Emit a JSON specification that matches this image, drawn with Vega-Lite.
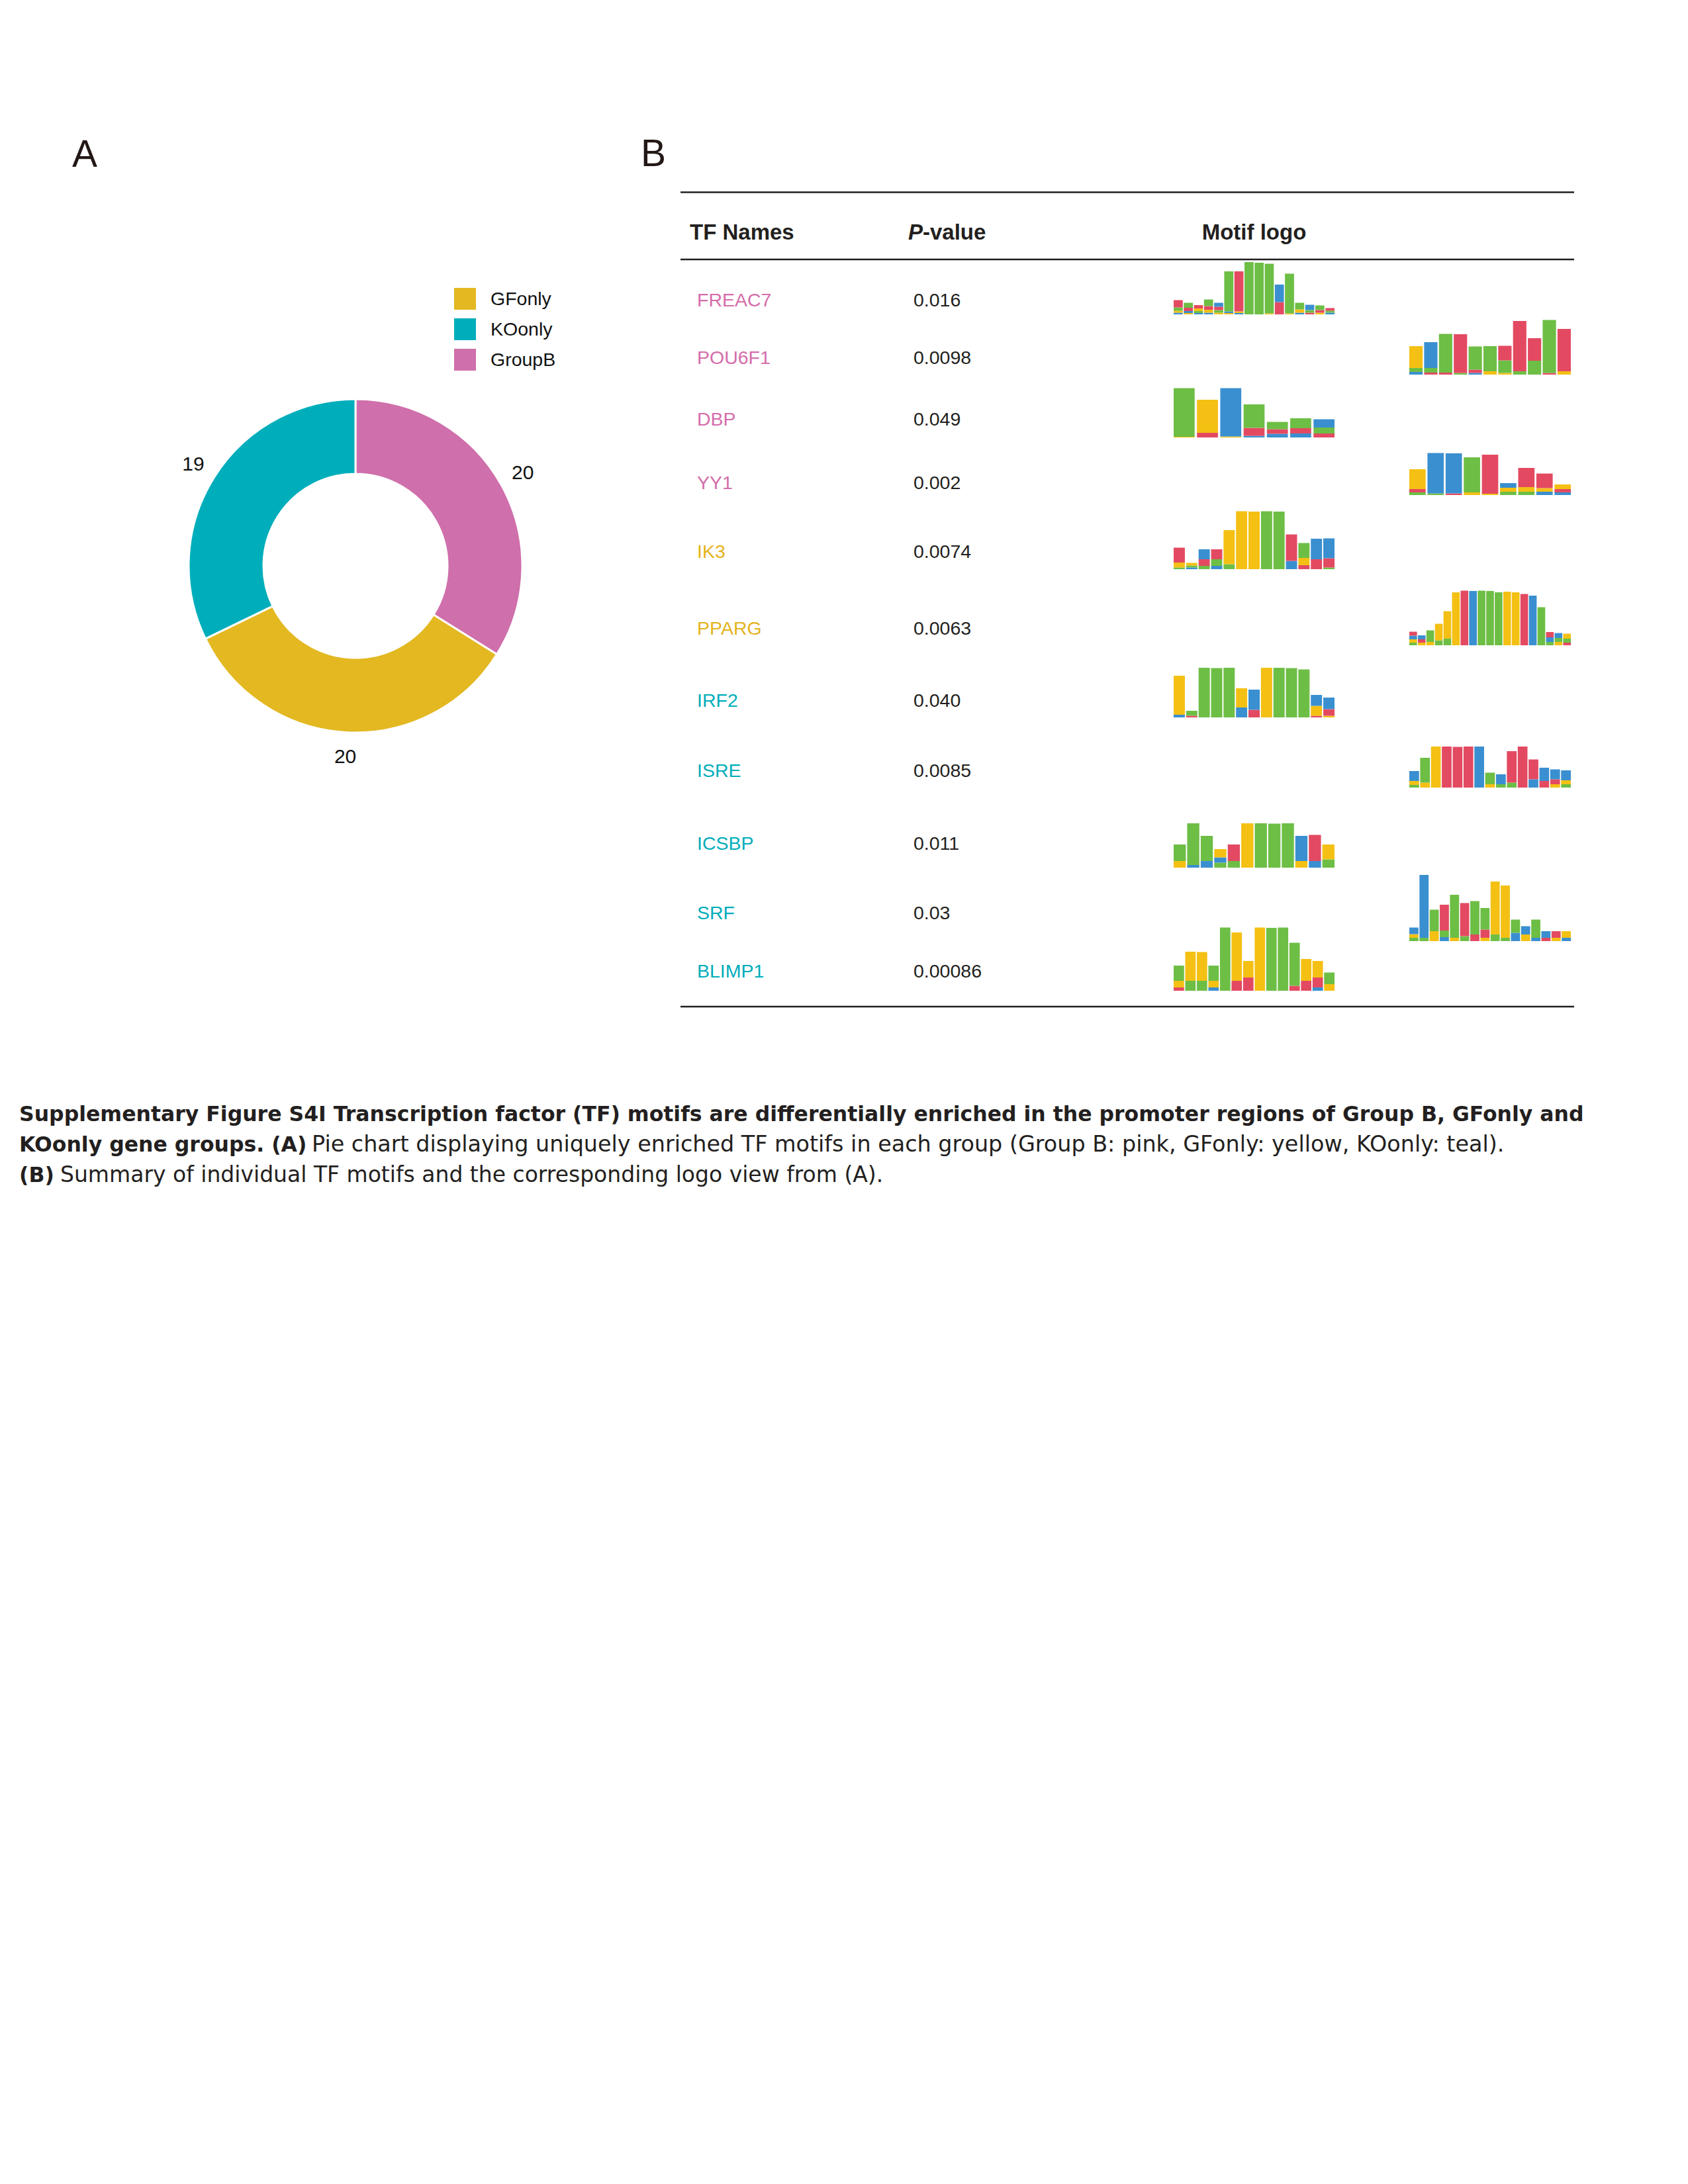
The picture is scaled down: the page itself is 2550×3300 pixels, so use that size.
{
  "$schema": "https://vega.github.io/schema/vega-lite/v6.json",
  "background": "white",
  "padding": {"left": 29, "top": 205, "right": 0, "bottom": 0},
  "config": {
    "view": {"stroke": null},
    "font": "Liberation Sans",
    "title": {"font": "Liberation Sans", "fontSize": 57, "fontWeight": "normal", "color": "#231815", "anchor": "start", "frame": "group", "baseline": "alphabetic"}
  },
  "datasets": {
    "tbl": [
      {"r":"hdr","k":"h","c":"a","t":"TF Names"},
      {"r":"hdr","k":"h","c":"b","t":"-value"},
      {"r":"hdr","k":"hp","c":"b","t":"P"},
      {"r":"hdr","k":"hm","c":"m","t":"Motif logo"},
      {"r":"hdr","k":"rt"},
      {"r":"hdr","k":"rm"},
      {"r":"BLIMP1","k":"rb"},
      {"r":"FREAC7","k":"n","c":"name","t":"FREAC7","g":"GroupB"},
      {"r":"FREAC7","k":"n","c":"p","t":"0.016","g":"P"},
      {"r":"POU6F1","k":"n","c":"name","t":"POU6F1","g":"GroupB"},
      {"r":"POU6F1","k":"n","c":"p","t":"0.0098","g":"P"},
      {"r":"DBP","k":"n","c":"name","t":"DBP","g":"GroupB"},
      {"r":"DBP","k":"n","c":"p","t":"0.049","g":"P"},
      {"r":"YY1","k":"n","c":"name","t":"YY1","g":"GroupB"},
      {"r":"YY1","k":"n","c":"p","t":"0.002","g":"P"},
      {"r":"IK3","k":"n","c":"name","t":"IK3","g":"GFonly"},
      {"r":"IK3","k":"n","c":"p","t":"0.0074","g":"P"},
      {"r":"PPARG","k":"n","c":"name","t":"PPARG","g":"GFonly"},
      {"r":"PPARG","k":"n","c":"p","t":"0.0063","g":"P"},
      {"r":"IRF2","k":"n","c":"name","t":"IRF2","g":"KOonly"},
      {"r":"IRF2","k":"n","c":"p","t":"0.040","g":"P"},
      {"r":"ISRE","k":"n","c":"name","t":"ISRE","g":"KOonly"},
      {"r":"ISRE","k":"n","c":"p","t":"0.0085","g":"P"},
      {"r":"ICSBP","k":"n","c":"name","t":"ICSBP","g":"KOonly"},
      {"r":"ICSBP","k":"n","c":"p","t":"0.011","g":"P"},
      {"r":"SRF","k":"n","c":"name","t":"SRF","g":"KOonly"},
      {"r":"SRF","k":"n","c":"p","t":"0.03","g":"P"},
      {"r":"BLIMP1","k":"n","c":"name","t":"BLIMP1","g":"KOonly"},
      {"r":"BLIMP1","k":"n","c":"p","t":"0.00086","g":"P"},

      {"r":"FREAC7","k":"L","p":1,"l":"C","h":0.05},{"r":"FREAC7","k":"L","p":1,"l":"G","h":0.06},{"r":"FREAC7","k":"L","p":1,"l":"A","h":0.1},{"r":"FREAC7","k":"L","p":1,"l":"T","h":0.22},
      {"r":"FREAC7","k":"L","p":2,"l":"G","h":0.04},{"r":"FREAC7","k":"L","p":2,"l":"C","h":0.06},{"r":"FREAC7","k":"L","p":2,"l":"T","h":0.1},{"r":"FREAC7","k":"L","p":2,"l":"A","h":0.15},
      {"r":"FREAC7","k":"L","p":3,"l":"C","h":0.04},{"r":"FREAC7","k":"L","p":3,"l":"A","h":0.06},{"r":"FREAC7","k":"L","p":3,"l":"G","h":0.08},{"r":"FREAC7","k":"L","p":3,"l":"T","h":0.1},
      {"r":"FREAC7","k":"L","p":4,"l":"C","h":0.05},{"r":"FREAC7","k":"L","p":4,"l":"G","h":0.09},{"r":"FREAC7","k":"L","p":4,"l":"T","h":0.11},{"r":"FREAC7","k":"L","p":4,"l":"A","h":0.2},
      {"r":"FREAC7","k":"L","p":5,"l":"G","h":0.05},{"r":"FREAC7","k":"L","p":5,"l":"A","h":0.08},{"r":"FREAC7","k":"L","p":5,"l":"T","h":0.1},{"r":"FREAC7","k":"L","p":5,"l":"C","h":0.12},
      {"r":"FREAC7","k":"L","p":6,"l":"G","h":0.04},{"r":"FREAC7","k":"L","p":6,"l":"C","h":0.05},{"r":"FREAC7","k":"L","p":6,"l":"A","h":1.21},
      {"r":"FREAC7","k":"L","p":7,"l":"C","h":0.04},{"r":"FREAC7","k":"L","p":7,"l":"G","h":0.05},{"r":"FREAC7","k":"L","p":7,"l":"T","h":1.21},
      {"r":"FREAC7","k":"L","p":8,"l":"A","h":1.58},
      {"r":"FREAC7","k":"L","p":9,"l":"A","h":1.56},
      {"r":"FREAC7","k":"L","p":10,"l":"G","h":0.03},{"r":"FREAC7","k":"L","p":10,"l":"A","h":1.5},
      {"r":"FREAC7","k":"L","p":11,"l":"T","h":0.37},{"r":"FREAC7","k":"L","p":11,"l":"C","h":0.53},
      {"r":"FREAC7","k":"L","p":12,"l":"G","h":0.03},{"r":"FREAC7","k":"L","p":12,"l":"A","h":1.2},
      {"r":"FREAC7","k":"L","p":13,"l":"C","h":0.05},{"r":"FREAC7","k":"L","p":13,"l":"G","h":0.1},{"r":"FREAC7","k":"L","p":13,"l":"A","h":0.2},
      {"r":"FREAC7","k":"L","p":14,"l":"T","h":0.05},{"r":"FREAC7","k":"L","p":14,"l":"A","h":0.08},{"r":"FREAC7","k":"L","p":14,"l":"C","h":0.16},
      {"r":"FREAC7","k":"L","p":15,"l":"G","h":0.05},{"r":"FREAC7","k":"L","p":15,"l":"T","h":0.08},{"r":"FREAC7","k":"L","p":15,"l":"A","h":0.14},
      {"r":"FREAC7","k":"L","p":16,"l":"C","h":0.05},{"r":"FREAC7","k":"L","p":16,"l":"A","h":0.06},{"r":"FREAC7","k":"L","p":16,"l":"T","h":0.08},

      {"r":"POU6F1","k":"R","p":1,"l":"C","h":0.08},{"r":"POU6F1","k":"R","p":1,"l":"A","h":0.12},{"r":"POU6F1","k":"R","p":1,"l":"G","h":0.66},
      {"r":"POU6F1","k":"R","p":2,"l":"T","h":0.06},{"r":"POU6F1","k":"R","p":2,"l":"A","h":0.14},{"r":"POU6F1","k":"R","p":2,"l":"C","h":0.78},
      {"r":"POU6F1","k":"R","p":3,"l":"T","h":0.06},{"r":"POU6F1","k":"R","p":3,"l":"A","h":1.17},
      {"r":"POU6F1","k":"R","p":4,"l":"A","h":0.05},{"r":"POU6F1","k":"R","p":4,"l":"T","h":1.17},
      {"r":"POU6F1","k":"R","p":5,"l":"C","h":0.05},{"r":"POU6F1","k":"R","p":5,"l":"T","h":0.1},{"r":"POU6F1","k":"R","p":5,"l":"A","h":0.7},
      {"r":"POU6F1","k":"R","p":6,"l":"G","h":0.1},{"r":"POU6F1","k":"R","p":6,"l":"A","h":0.76},
      {"r":"POU6F1","k":"R","p":7,"l":"G","h":0.05},{"r":"POU6F1","k":"R","p":7,"l":"A","h":0.38},{"r":"POU6F1","k":"R","p":7,"l":"T","h":0.44},
      {"r":"POU6F1","k":"R","p":8,"l":"A","h":0.1},{"r":"POU6F1","k":"R","p":8,"l":"T","h":1.52},
      {"r":"POU6F1","k":"R","p":9,"l":"A","h":0.42},{"r":"POU6F1","k":"R","p":9,"l":"T","h":0.68},
      {"r":"POU6F1","k":"R","p":10,"l":"T","h":0.05},{"r":"POU6F1","k":"R","p":10,"l":"A","h":1.6},
      {"r":"POU6F1","k":"R","p":11,"l":"G","h":0.1},{"r":"POU6F1","k":"R","p":11,"l":"T","h":1.28},

      {"r":"DBP","k":"L","p":1,"l":"G","h":0.02},{"r":"DBP","k":"L","p":1,"l":"A","h":1.47},
      {"r":"DBP","k":"L","p":2,"l":"T","h":0.14},{"r":"DBP","k":"L","p":2,"l":"G","h":1.0},
      {"r":"DBP","k":"L","p":3,"l":"G","h":0.03},{"r":"DBP","k":"L","p":3,"l":"C","h":1.46},
      {"r":"DBP","k":"L","p":4,"l":"C","h":0.05},{"r":"DBP","k":"L","p":4,"l":"T","h":0.24},{"r":"DBP","k":"L","p":4,"l":"A","h":0.71},
      {"r":"DBP","k":"L","p":5,"l":"C","h":0.11},{"r":"DBP","k":"L","p":5,"l":"T","h":0.14},{"r":"DBP","k":"L","p":5,"l":"A","h":0.22},
      {"r":"DBP","k":"L","p":6,"l":"C","h":0.12},{"r":"DBP","k":"L","p":6,"l":"T","h":0.16},{"r":"DBP","k":"L","p":6,"l":"A","h":0.3},
      {"r":"DBP","k":"L","p":7,"l":"T","h":0.12},{"r":"DBP","k":"L","p":7,"l":"A","h":0.18},{"r":"DBP","k":"L","p":7,"l":"C","h":0.25},

      {"r":"YY1","k":"R","p":1,"l":"A","h":0.08},{"r":"YY1","k":"R","p":1,"l":"T","h":0.1},{"r":"YY1","k":"R","p":1,"l":"G","h":0.6},
      {"r":"YY1","k":"R","p":2,"l":"A","h":0.05},{"r":"YY1","k":"R","p":2,"l":"C","h":1.22},
      {"r":"YY1","k":"R","p":3,"l":"T","h":0.05},{"r":"YY1","k":"R","p":3,"l":"C","h":1.21},
      {"r":"YY1","k":"R","p":4,"l":"G","h":0.08},{"r":"YY1","k":"R","p":4,"l":"A","h":1.06},
      {"r":"YY1","k":"R","p":5,"l":"G","h":0.04},{"r":"YY1","k":"R","p":5,"l":"T","h":1.18},
      {"r":"YY1","k":"R","p":6,"l":"A","h":0.1},{"r":"YY1","k":"R","p":6,"l":"G","h":0.12},{"r":"YY1","k":"R","p":6,"l":"C","h":0.14},
      {"r":"YY1","k":"R","p":7,"l":"A","h":0.1},{"r":"YY1","k":"R","p":7,"l":"G","h":0.14},{"r":"YY1","k":"R","p":7,"l":"T","h":0.58},
      {"r":"YY1","k":"R","p":8,"l":"C","h":0.1},{"r":"YY1","k":"R","p":8,"l":"G","h":0.11},{"r":"YY1","k":"R","p":8,"l":"T","h":0.44},
      {"r":"YY1","k":"R","p":9,"l":"C","h":0.08},{"r":"YY1","k":"R","p":9,"l":"T","h":0.1},{"r":"YY1","k":"R","p":9,"l":"G","h":0.14},

      {"r":"IK3","k":"L","p":1,"l":"A","h":0.05},{"r":"IK3","k":"L","p":1,"l":"G","h":0.15},{"r":"IK3","k":"L","p":1,"l":"T","h":0.45},
      {"r":"IK3","k":"L","p":2,"l":"C","h":0.05},{"r":"IK3","k":"L","p":2,"l":"A","h":0.06},{"r":"IK3","k":"L","p":2,"l":"G","h":0.08},
      {"r":"IK3","k":"L","p":3,"l":"A","h":0.1},{"r":"IK3","k":"L","p":3,"l":"T","h":0.2},{"r":"IK3","k":"L","p":3,"l":"C","h":0.3},
      {"r":"IK3","k":"L","p":4,"l":"C","h":0.1},{"r":"IK3","k":"L","p":4,"l":"A","h":0.2},{"r":"IK3","k":"L","p":4,"l":"T","h":0.3},
      {"r":"IK3","k":"L","p":5,"l":"A","h":0.15},{"r":"IK3","k":"L","p":5,"l":"G","h":1.03},
      {"r":"IK3","k":"L","p":6,"l":"G","h":1.75},
      {"r":"IK3","k":"L","p":7,"l":"G","h":1.74},
      {"r":"IK3","k":"L","p":8,"l":"A","h":1.75},
      {"r":"IK3","k":"L","p":9,"l":"A","h":1.74},
      {"r":"IK3","k":"L","p":10,"l":"C","h":0.25},{"r":"IK3","k":"L","p":10,"l":"T","h":0.8},
      {"r":"IK3","k":"L","p":11,"l":"T","h":0.12},{"r":"IK3","k":"L","p":11,"l":"G","h":0.22},{"r":"IK3","k":"L","p":11,"l":"A","h":0.45},
      {"r":"IK3","k":"L","p":12,"l":"T","h":0.3},{"r":"IK3","k":"L","p":12,"l":"C","h":0.62},
      {"r":"IK3","k":"L","p":13,"l":"A","h":0.05},{"r":"IK3","k":"L","p":13,"l":"T","h":0.28},{"r":"IK3","k":"L","p":13,"l":"C","h":0.6},

      {"r":"PPARG","k":"R","p":1,"l":"A","h":0.08},{"r":"PPARG","k":"R","p":1,"l":"G","h":0.1},{"r":"PPARG","k":"R","p":1,"l":"C","h":0.11},{"r":"PPARG","k":"R","p":1,"l":"T","h":0.12},
      {"r":"PPARG","k":"R","p":2,"l":"G","h":0.08},{"r":"PPARG","k":"R","p":2,"l":"T","h":0.1},{"r":"PPARG","k":"R","p":2,"l":"C","h":0.12},
      {"r":"PPARG","k":"R","p":3,"l":"G","h":0.1},{"r":"PPARG","k":"R","p":3,"l":"A","h":0.35},
      {"r":"PPARG","k":"R","p":4,"l":"A","h":0.15},{"r":"PPARG","k":"R","p":4,"l":"G","h":0.5},
      {"r":"PPARG","k":"R","p":5,"l":"A","h":0.2},{"r":"PPARG","k":"R","p":5,"l":"G","h":0.83},
      {"r":"PPARG","k":"R","p":6,"l":"G","h":1.6},
      {"r":"PPARG","k":"R","p":7,"l":"T","h":1.65},
      {"r":"PPARG","k":"R","p":8,"l":"C","h":1.64},
      {"r":"PPARG","k":"R","p":9,"l":"A","h":1.65},
      {"r":"PPARG","k":"R","p":10,"l":"A","h":1.64},
      {"r":"PPARG","k":"R","p":11,"l":"A","h":1.6},
      {"r":"PPARG","k":"R","p":12,"l":"G","h":1.62},
      {"r":"PPARG","k":"R","p":13,"l":"G","h":1.6},
      {"r":"PPARG","k":"R","p":14,"l":"T","h":1.55},
      {"r":"PPARG","k":"R","p":15,"l":"C","h":1.5},
      {"r":"PPARG","k":"R","p":16,"l":"A","h":1.15},
      {"r":"PPARG","k":"R","p":17,"l":"A","h":0.1},{"r":"PPARG","k":"R","p":17,"l":"C","h":0.14},{"r":"PPARG","k":"R","p":17,"l":"T","h":0.16},
      {"r":"PPARG","k":"R","p":18,"l":"G","h":0.1},{"r":"PPARG","k":"R","p":18,"l":"A","h":0.12},{"r":"PPARG","k":"R","p":18,"l":"C","h":0.15},
      {"r":"PPARG","k":"R","p":19,"l":"T","h":0.08},{"r":"PPARG","k":"R","p":19,"l":"A","h":0.12},{"r":"PPARG","k":"R","p":19,"l":"G","h":0.15},

      {"r":"IRF2","k":"L","p":1,"l":"C","h":0.08},{"r":"IRF2","k":"L","p":1,"l":"G","h":1.18},
      {"r":"IRF2","k":"L","p":2,"l":"T","h":0.05},{"r":"IRF2","k":"L","p":2,"l":"A","h":0.15},
      {"r":"IRF2","k":"L","p":3,"l":"A","h":1.5},
      {"r":"IRF2","k":"L","p":4,"l":"A","h":1.49},
      {"r":"IRF2","k":"L","p":5,"l":"A","h":1.5},
      {"r":"IRF2","k":"L","p":6,"l":"C","h":0.3},{"r":"IRF2","k":"L","p":6,"l":"G","h":0.58},
      {"r":"IRF2","k":"L","p":7,"l":"T","h":0.23},{"r":"IRF2","k":"L","p":7,"l":"C","h":0.61},
      {"r":"IRF2","k":"L","p":8,"l":"G","h":1.5},
      {"r":"IRF2","k":"L","p":9,"l":"A","h":1.5},
      {"r":"IRF2","k":"L","p":10,"l":"A","h":1.49},
      {"r":"IRF2","k":"L","p":11,"l":"A","h":1.45},
      {"r":"IRF2","k":"L","p":12,"l":"T","h":0.05},{"r":"IRF2","k":"L","p":12,"l":"G","h":0.3},{"r":"IRF2","k":"L","p":12,"l":"C","h":0.33},
      {"r":"IRF2","k":"L","p":13,"l":"G","h":0.05},{"r":"IRF2","k":"L","p":13,"l":"T","h":0.2},{"r":"IRF2","k":"L","p":13,"l":"C","h":0.35},

      {"r":"ISRE","k":"R","p":1,"l":"A","h":0.08},{"r":"ISRE","k":"R","p":1,"l":"G","h":0.12},{"r":"ISRE","k":"R","p":1,"l":"C","h":0.3},
      {"r":"ISRE","k":"R","p":2,"l":"G","h":0.15},{"r":"ISRE","k":"R","p":2,"l":"A","h":0.75},
      {"r":"ISRE","k":"R","p":3,"l":"G","h":1.24},
      {"r":"ISRE","k":"R","p":4,"l":"T","h":1.24},
      {"r":"ISRE","k":"R","p":5,"l":"T","h":1.23},
      {"r":"ISRE","k":"R","p":6,"l":"T","h":1.24},
      {"r":"ISRE","k":"R","p":7,"l":"C","h":1.24},
      {"r":"ISRE","k":"R","p":8,"l":"G","h":0.1},{"r":"ISRE","k":"R","p":8,"l":"A","h":0.35},
      {"r":"ISRE","k":"R","p":9,"l":"A","h":0.1},{"r":"ISRE","k":"R","p":9,"l":"C","h":0.3},
      {"r":"ISRE","k":"R","p":10,"l":"A","h":0.15},{"r":"ISRE","k":"R","p":10,"l":"T","h":0.95},
      {"r":"ISRE","k":"R","p":11,"l":"T","h":1.24},
      {"r":"ISRE","k":"R","p":12,"l":"C","h":0.25},{"r":"ISRE","k":"R","p":12,"l":"T","h":0.6},
      {"r":"ISRE","k":"R","p":13,"l":"T","h":0.2},{"r":"ISRE","k":"R","p":13,"l":"C","h":0.4},
      {"r":"ISRE","k":"R","p":14,"l":"G","h":0.1},{"r":"ISRE","k":"R","p":14,"l":"T","h":0.15},{"r":"ISRE","k":"R","p":14,"l":"C","h":0.3},
      {"r":"ISRE","k":"R","p":15,"l":"A","h":0.1},{"r":"ISRE","k":"R","p":15,"l":"G","h":0.12},{"r":"ISRE","k":"R","p":15,"l":"C","h":0.3},

      {"r":"ICSBP","k":"L","p":1,"l":"G","h":0.2},{"r":"ICSBP","k":"L","p":1,"l":"A","h":0.5},
      {"r":"ICSBP","k":"L","p":2,"l":"C","h":0.08},{"r":"ICSBP","k":"L","p":2,"l":"A","h":1.26},
      {"r":"ICSBP","k":"L","p":3,"l":"C","h":0.2},{"r":"ICSBP","k":"L","p":3,"l":"A","h":0.76},
      {"r":"ICSBP","k":"L","p":4,"l":"A","h":0.15},{"r":"ICSBP","k":"L","p":4,"l":"C","h":0.16},{"r":"ICSBP","k":"L","p":4,"l":"G","h":0.25},
      {"r":"ICSBP","k":"L","p":5,"l":"A","h":0.2},{"r":"ICSBP","k":"L","p":5,"l":"T","h":0.5},
      {"r":"ICSBP","k":"L","p":6,"l":"G","h":1.34},
      {"r":"ICSBP","k":"L","p":7,"l":"A","h":1.34},
      {"r":"ICSBP","k":"L","p":8,"l":"A","h":1.33},
      {"r":"ICSBP","k":"L","p":9,"l":"A","h":1.34},
      {"r":"ICSBP","k":"L","p":10,"l":"G","h":0.2},{"r":"ICSBP","k":"L","p":10,"l":"C","h":0.76},
      {"r":"ICSBP","k":"L","p":11,"l":"C","h":0.2},{"r":"ICSBP","k":"L","p":11,"l":"T","h":0.79},
      {"r":"ICSBP","k":"L","p":12,"l":"A","h":0.25},{"r":"ICSBP","k":"L","p":12,"l":"G","h":0.45},

      {"r":"SRF","k":"R","p":1,"l":"A","h":0.1},{"r":"SRF","k":"R","p":1,"l":"G","h":0.11},{"r":"SRF","k":"R","p":1,"l":"C","h":0.2},
      {"r":"SRF","k":"R","p":2,"l":"A","h":0.1},{"r":"SRF","k":"R","p":2,"l":"C","h":1.9},
      {"r":"SRF","k":"R","p":3,"l":"G","h":0.3},{"r":"SRF","k":"R","p":3,"l":"A","h":0.65},
      {"r":"SRF","k":"R","p":4,"l":"C","h":0.12},{"r":"SRF","k":"R","p":4,"l":"A","h":0.2},{"r":"SRF","k":"R","p":4,"l":"T","h":0.78},
      {"r":"SRF","k":"R","p":5,"l":"G","h":0.1},{"r":"SRF","k":"R","p":5,"l":"A","h":1.3},
      {"r":"SRF","k":"R","p":6,"l":"A","h":0.15},{"r":"SRF","k":"R","p":6,"l":"T","h":1.0},
      {"r":"SRF","k":"R","p":7,"l":"T","h":0.2},{"r":"SRF","k":"R","p":7,"l":"A","h":1.01},
      {"r":"SRF","k":"R","p":8,"l":"G","h":0.1},{"r":"SRF","k":"R","p":8,"l":"T","h":0.25},{"r":"SRF","k":"R","p":8,"l":"A","h":0.65},
      {"r":"SRF","k":"R","p":9,"l":"A","h":0.2},{"r":"SRF","k":"R","p":9,"l":"G","h":1.6},
      {"r":"SRF","k":"R","p":10,"l":"A","h":0.1},{"r":"SRF","k":"R","p":10,"l":"G","h":1.58},
      {"r":"SRF","k":"R","p":11,"l":"C","h":0.25},{"r":"SRF","k":"R","p":11,"l":"A","h":0.4},
      {"r":"SRF","k":"R","p":12,"l":"G","h":0.2},{"r":"SRF","k":"R","p":12,"l":"C","h":0.25},
      {"r":"SRF","k":"R","p":13,"l":"C","h":0.1},{"r":"SRF","k":"R","p":13,"l":"A","h":0.55},
      {"r":"SRF","k":"R","p":14,"l":"T","h":0.1},{"r":"SRF","k":"R","p":14,"l":"C","h":0.2},
      {"r":"SRF","k":"R","p":15,"l":"G","h":0.1},{"r":"SRF","k":"R","p":15,"l":"T","h":0.2},
      {"r":"SRF","k":"R","p":16,"l":"C","h":0.1},{"r":"SRF","k":"R","p":16,"l":"G","h":0.2},

      {"r":"BLIMP1","k":"L","p":1,"l":"T","h":0.1},{"r":"BLIMP1","k":"L","p":1,"l":"G","h":0.2},{"r":"BLIMP1","k":"L","p":1,"l":"A","h":0.46},
      {"r":"BLIMP1","k":"L","p":2,"l":"A","h":0.3},{"r":"BLIMP1","k":"L","p":2,"l":"G","h":0.88},
      {"r":"BLIMP1","k":"L","p":3,"l":"A","h":0.3},{"r":"BLIMP1","k":"L","p":3,"l":"G","h":0.87},
      {"r":"BLIMP1","k":"L","p":4,"l":"C","h":0.1},{"r":"BLIMP1","k":"L","p":4,"l":"G","h":0.2},{"r":"BLIMP1","k":"L","p":4,"l":"A","h":0.46},
      {"r":"BLIMP1","k":"L","p":5,"l":"A","h":1.91},
      {"r":"BLIMP1","k":"L","p":6,"l":"T","h":0.3},{"r":"BLIMP1","k":"L","p":6,"l":"G","h":1.46},
      {"r":"BLIMP1","k":"L","p":7,"l":"T","h":0.4},{"r":"BLIMP1","k":"L","p":7,"l":"G","h":0.5},
      {"r":"BLIMP1","k":"L","p":8,"l":"G","h":1.91},
      {"r":"BLIMP1","k":"L","p":9,"l":"A","h":1.9},
      {"r":"BLIMP1","k":"L","p":10,"l":"A","h":1.91},
      {"r":"BLIMP1","k":"L","p":11,"l":"T","h":0.15},{"r":"BLIMP1","k":"L","p":11,"l":"A","h":1.3},
      {"r":"BLIMP1","k":"L","p":12,"l":"T","h":0.3},{"r":"BLIMP1","k":"L","p":12,"l":"G","h":0.66},
      {"r":"BLIMP1","k":"L","p":13,"l":"C","h":0.1},{"r":"BLIMP1","k":"L","p":13,"l":"T","h":0.3},{"r":"BLIMP1","k":"L","p":13,"l":"G","h":0.5},
      {"r":"BLIMP1","k":"L","p":14,"l":"G","h":0.2},{"r":"BLIMP1","k":"L","p":14,"l":"A","h":0.35}
    ]
  },
  "bounds": "flush",
  "spacing": 1367,
  "resolve": {"scale": {"color": "independent"}, "legend": {"color": "independent"}},
  "vconcat": [
    {
      "bounds": "flush",
      "spacing": 63,
      "resolve": {"scale": {"color": "independent"}, "legend": {"color": "independent"}},
      "hconcat": [
        {
          "width": 17, "height": 1,
          "data": {"values": [{"t": ""}]},
          "mark": {"type": "text"},
          "encoding": {"text": {"field": "t"}}
        },
        {
          "width": 856, "height": 1056,
          "title": {"text": "A", "offset": 63},
          "data": {"values": [
            {"group": "GroupB", "n": 20, "o": 1},
            {"group": "GFonly", "n": 20, "o": 2},
            {"group": "KOonly", "n": 19, "o": 3}
          ]},
          "layer": [
            {
              "mark": {"type": "arc", "outerRadius": 252, "innerRadius": 139, "stroke": "white", "strokeWidth": 3},
              "encoding": {
                "theta": {"field": "n", "type": "quantitative", "stack": true},
                "order": {"field": "o", "type": "quantitative"},
                "color": {
                  "field": "group", "type": "nominal",
                  "scale": {"domain": ["GFonly", "KOonly", "GroupB"], "range": ["#E3B821", "#00AEBB", "#CF6FAB"]},
                  "legend": {"orient": "none", "legendX": 577, "legendY": 108, "title": null, "symbolType": "square", "symbolSize": 1089, "symbolStrokeWidth": 0, "symbolOpacity": 1, "labelFontSize": 28.5, "labelFont": "Liberation Sans", "labelColor": "#111111", "labelOffset": 22, "rowPadding": 13, "padding": 0, "labelLimit": 400}
                }
              }
            },
            {
              "mark": {"type": "text", "radius": 289, "fontSize": 30, "color": "#111111", "font": "Liberation Sans"},
              "encoding": {
                "theta": {"field": "n", "type": "quantitative", "stack": true},
                "order": {"field": "o", "type": "quantitative"},
                "detail": {"field": "group", "type": "nominal"},
                "text": {"field": "n", "type": "quantitative"}
              }
            }
          ]
        },
        {
          "title": {"text": "B", "dx": -60, "offset": 26},
          "data": {"name": "tbl"},
          "bounds": "flush",
          "spacing": 0,
          "resolve": {"scale": {"color": "independent"}},
          "vconcat": [
            {
              "width": 1350, "height": 50,
              "transform": [{"filter": "datum.r === 'hdr'"}],
              "resolve": {"scale": {"x": "independent"}},
              "layer": [
                {
                  "transform": [{"filter": "datum.k === 'h'"}],
                  "mark": {"type": "text", "align": "left", "fontSize": 33, "fontWeight": "bold", "font": "Liberation Sans", "color": "#231F20"},
                  "encoding": {"x": {"field": "c", "type": "nominal", "scale": {"type": "point", "domain": ["a", "b"], "range": [14, 366], "padding": 0}, "axis": null}, "text": {"field": "t"}}
                },
                {
                  "transform": [{"filter": "datum.k === 'hp'"}],
                  "mark": {"type": "text", "align": "left", "fontSize": 33, "fontWeight": "bold", "fontStyle": "italic", "font": "Liberation Sans", "color": "#231F20"},
                  "encoding": {"x": {"field": "c", "type": "nominal", "scale": {"type": "point", "domain": ["a", "b"], "range": [14, 344], "padding": 0}, "axis": null}, "text": {"field": "t"}}
                },
                {
                  "transform": [{"filter": "datum.k === 'hm'"}],
                  "mark": {"type": "text", "align": "center", "fontSize": 33, "fontWeight": "bold", "font": "Liberation Sans", "color": "#231F20"},
                  "encoding": {"x": {"field": "c", "type": "nominal", "scale": {"type": "point", "domain": ["m"], "range": [745, 988], "padding": 0}, "axis": null}, "text": {"field": "t"}}
                },
                {
                  "transform": [{"filter": "datum.k === 'rt'"}],
                  "mark": {"type": "rule", "strokeWidth": 2.5, "color": "#231F20"},
                  "encoding": {"y": {"datum": 1.73, "type": "quantitative", "scale": {"domain": [0, 1], "nice": false}, "axis": null}}
                },
                {
                  "transform": [{"filter": "datum.k === 'rm'"}],
                  "mark": {"type": "rule", "strokeWidth": 2.5, "color": "#231F20"},
                  "encoding": {"y": {"datum": -0.3, "type": "quantitative", "scale": {"domain": [0, 1], "nice": false}, "axis": null}}
                }
              ]
            },
            {
              "width": 1350, "height": 154,
              "transform": [{"filter": "datum.r === 'FREAC7'"}],
              "resolve": {"scale": {"x": "independent", "color": "independent"}},
              "layer": [
                {"transform": [{"filter": "datum.k === 'n'"}], "mark": {"type": "text", "align": "left", "fontSize": 28.5, "font": "Liberation Sans"},
                 "encoding": {"x": {"field": "c", "type": "nominal", "scale": {"type": "point", "domain": ["name", "p"], "range": [25, 352], "padding": 0}, "axis": null}, "text": {"field": "t"}, "color": {"field": "g", "type": "nominal", "scale": {"domain": ["GroupB", "GFonly", "KOonly", "P"], "range": ["#D46DAA", "#E3B31C", "#00ADBA", "#231F20"]}, "legend": null}}},
                {"transform": [{"filter": "datum.k === 'L'"}], "mark": {"type": "bar"},
                 "encoding": {"x": {"field": "p", "type": "ordinal", "scale": {"type": "band", "range": [745, 988], "paddingInner": 0.1, "paddingOuter": 0}, "axis": null}, "y": {"field": "h", "type": "quantitative", "stack": "zero", "scale": {"domain": [0, 1], "range": [98, 48], "nice": false}, "axis": null}, "order": {"field": "h", "type": "quantitative", "sort": "ascending"}, "color": {"field": "l", "type": "nominal", "scale": {"domain": ["A", "C", "G", "T"], "range": ["#6DBE45", "#3A8FD0", "#F4C014", "#E34A62"]}, "legend": null}}}
              ]
            },
            {
              "width": 1350, "height": 20,
              "transform": [{"filter": "datum.r === 'POU6F1'"}],
              "resolve": {"scale": {"x": "independent", "color": "independent"}},
              "layer": [
                {"transform": [{"filter": "datum.k === 'n'"}], "mark": {"type": "text", "align": "left", "fontSize": 28.5, "font": "Liberation Sans"},
                 "encoding": {"x": {"field": "c", "type": "nominal", "scale": {"type": "point", "domain": ["name", "p"], "range": [25, 352], "padding": 0}, "axis": null}, "text": {"field": "t"}, "color": {"field": "g", "type": "nominal", "scale": {"domain": ["GroupB", "GFonly", "KOonly", "P"], "range": ["#D46DAA", "#E3B31C", "#00ADBA", "#231F20"]}, "legend": null}}},
                {"transform": [{"filter": "datum.k === 'R'"}], "mark": {"type": "bar"},
                 "encoding": {"x": {"field": "p", "type": "ordinal", "scale": {"type": "band", "range": [1101, 1345], "paddingInner": 0.1, "paddingOuter": 0}, "axis": null}, "y": {"field": "h", "type": "quantitative", "stack": "zero", "scale": {"domain": [0, 1], "range": [35, -15], "nice": false}, "axis": null}, "order": {"field": "h", "type": "quantitative", "sort": "ascending"}, "color": {"field": "l", "type": "nominal", "scale": {"domain": ["A", "C", "G", "T"], "range": ["#6DBE45", "#3A8FD0", "#F4C014", "#E34A62"]}, "legend": null}}}
              ]
            },
            {
              "width": 1350, "height": 166,
              "transform": [{"filter": "datum.r === 'DBP'"}],
              "resolve": {"scale": {"x": "independent", "color": "independent"}},
              "layer": [
                {"transform": [{"filter": "datum.k === 'n'"}], "mark": {"type": "text", "align": "left", "fontSize": 28.5, "font": "Liberation Sans"},
                 "encoding": {"x": {"field": "c", "type": "nominal", "scale": {"type": "point", "domain": ["name", "p"], "range": [25, 352], "padding": 0}, "axis": null}, "text": {"field": "t"}, "color": {"field": "g", "type": "nominal", "scale": {"domain": ["GroupB", "GFonly", "KOonly", "P"], "range": ["#D46DAA", "#E3B31C", "#00ADBA", "#231F20"]}, "legend": null}}},
                {"transform": [{"filter": "datum.k === 'L'"}], "mark": {"type": "bar"},
                 "encoding": {"x": {"field": "p", "type": "ordinal", "scale": {"type": "band", "range": [745, 988], "paddingInner": 0.1, "paddingOuter": 0}, "axis": null}, "y": {"field": "h", "type": "quantitative", "stack": "zero", "scale": {"domain": [0, 1], "range": [110, 60], "nice": false}, "axis": null}, "order": {"field": "h", "type": "quantitative", "sort": "ascending"}, "color": {"field": "l", "type": "nominal", "scale": {"domain": ["A", "C", "G", "T"], "range": ["#6DBE45", "#3A8FD0", "#F4C014", "#E34A62"]}, "legend": null}}}
              ]
            },
            {
              "width": 1350, "height": 26,
              "transform": [{"filter": "datum.r === 'YY1'"}],
              "resolve": {"scale": {"x": "independent", "color": "independent"}},
              "layer": [
                {"transform": [{"filter": "datum.k === 'n'"}], "mark": {"type": "text", "align": "left", "fontSize": 28.5, "font": "Liberation Sans"},
                 "encoding": {"x": {"field": "c", "type": "nominal", "scale": {"type": "point", "domain": ["name", "p"], "range": [25, 352], "padding": 0}, "axis": null}, "text": {"field": "t"}, "color": {"field": "g", "type": "nominal", "scale": {"domain": ["GroupB", "GFonly", "KOonly", "P"], "range": ["#D46DAA", "#E3B31C", "#00ADBA", "#231F20"]}, "legend": null}}},
                {"transform": [{"filter": "datum.k === 'R'"}], "mark": {"type": "bar"},
                 "encoding": {"x": {"field": "p", "type": "ordinal", "scale": {"type": "band", "range": [1101, 1345], "paddingInner": 0.1, "paddingOuter": 0}, "axis": null}, "y": {"field": "h", "type": "quantitative", "stack": "zero", "scale": {"domain": [0, 1], "range": [31, -19], "nice": false}, "axis": null}, "order": {"field": "h", "type": "quantitative", "sort": "ascending"}, "color": {"field": "l", "type": "nominal", "scale": {"domain": ["A", "C", "G", "T"], "range": ["#6DBE45", "#3A8FD0", "#F4C014", "#E34A62"]}, "legend": null}}}
              ]
            },
            {
              "width": 1350, "height": 182,
              "transform": [{"filter": "datum.r === 'IK3'"}],
              "resolve": {"scale": {"x": "independent", "color": "independent"}},
              "layer": [
                {"transform": [{"filter": "datum.k === 'n'"}], "mark": {"type": "text", "align": "left", "fontSize": 28.5, "font": "Liberation Sans"},
                 "encoding": {"x": {"field": "c", "type": "nominal", "scale": {"type": "point", "domain": ["name", "p"], "range": [25, 352], "padding": 0}, "axis": null}, "text": {"field": "t"}, "color": {"field": "g", "type": "nominal", "scale": {"domain": ["GroupB", "GFonly", "KOonly", "P"], "range": ["#D46DAA", "#E3B31C", "#00ADBA", "#231F20"]}, "legend": null}}},
                {"transform": [{"filter": "datum.k === 'L'"}], "mark": {"type": "bar"},
                 "encoding": {"x": {"field": "p", "type": "ordinal", "scale": {"type": "band", "range": [745, 988], "paddingInner": 0.1, "paddingOuter": 0}, "axis": null}, "y": {"field": "h", "type": "quantitative", "stack": "zero", "scale": {"domain": [0, 1], "range": [117, 67], "nice": false}, "axis": null}, "order": {"field": "h", "type": "quantitative", "sort": "ascending"}, "color": {"field": "l", "type": "nominal", "scale": {"domain": ["A", "C", "G", "T"], "range": ["#6DBE45", "#3A8FD0", "#F4C014", "#E34A62"]}, "legend": null}}}
              ]
            },
            {
              "width": 1350, "height": 50,
              "transform": [{"filter": "datum.r === 'PPARG'"}],
              "resolve": {"scale": {"x": "independent", "color": "independent"}},
              "layer": [
                {"transform": [{"filter": "datum.k === 'n'"}], "mark": {"type": "text", "align": "left", "fontSize": 28.5, "font": "Liberation Sans"},
                 "encoding": {"x": {"field": "c", "type": "nominal", "scale": {"type": "point", "domain": ["name", "p"], "range": [25, 352], "padding": 0}, "axis": null}, "text": {"field": "t"}, "color": {"field": "g", "type": "nominal", "scale": {"domain": ["GroupB", "GFonly", "KOonly", "P"], "range": ["#D46DAA", "#E3B31C", "#00ADBA", "#231F20"]}, "legend": null}}},
                {"transform": [{"filter": "datum.k === 'R'"}], "mark": {"type": "bar"},
                 "encoding": {"x": {"field": "p", "type": "ordinal", "scale": {"type": "band", "range": [1101, 1345], "paddingInner": 0.1, "paddingOuter": 0}, "axis": null}, "y": {"field": "h", "type": "quantitative", "stack": "zero", "scale": {"domain": [0, 1], "range": [50, 0], "nice": false}, "axis": null}, "order": {"field": "h", "type": "quantitative", "sort": "ascending"}, "color": {"field": "l", "type": "nominal", "scale": {"domain": ["A", "C", "G", "T"], "range": ["#6DBE45", "#3A8FD0", "#F4C014", "#E34A62"]}, "legend": null}}}
              ]
            },
            {
              "width": 1350, "height": 168,
              "transform": [{"filter": "datum.r === 'IRF2'"}],
              "resolve": {"scale": {"x": "independent", "color": "independent"}},
              "layer": [
                {"transform": [{"filter": "datum.k === 'n'"}], "mark": {"type": "text", "align": "left", "fontSize": 28.5, "font": "Liberation Sans"},
                 "encoding": {"x": {"field": "c", "type": "nominal", "scale": {"type": "point", "domain": ["name", "p"], "range": [25, 352], "padding": 0}, "axis": null}, "text": {"field": "t"}, "color": {"field": "g", "type": "nominal", "scale": {"domain": ["GroupB", "GFonly", "KOonly", "P"], "range": ["#D46DAA", "#E3B31C", "#00ADBA", "#231F20"]}, "legend": null}}},
                {"transform": [{"filter": "datum.k === 'L'"}], "mark": {"type": "bar"},
                 "encoding": {"x": {"field": "p", "type": "ordinal", "scale": {"type": "band", "range": [745, 988], "paddingInner": 0.1, "paddingOuter": 0}, "axis": null}, "y": {"field": "h", "type": "quantitative", "stack": "zero", "scale": {"domain": [0, 1], "range": [109, 59], "nice": false}, "axis": null}, "order": {"field": "h", "type": "quantitative", "sort": "ascending"}, "color": {"field": "l", "type": "nominal", "scale": {"domain": ["A", "C", "G", "T"], "range": ["#6DBE45", "#3A8FD0", "#F4C014", "#E34A62"]}, "legend": null}}}
              ]
            },
            {
              "width": 1350, "height": 44,
              "transform": [{"filter": "datum.r === 'ISRE'"}],
              "resolve": {"scale": {"x": "independent", "color": "independent"}},
              "layer": [
                {"transform": [{"filter": "datum.k === 'n'"}], "mark": {"type": "text", "align": "left", "fontSize": 28.5, "font": "Liberation Sans"},
                 "encoding": {"x": {"field": "c", "type": "nominal", "scale": {"type": "point", "domain": ["name", "p"], "range": [25, 352], "padding": 0}, "axis": null}, "text": {"field": "t"}, "color": {"field": "g", "type": "nominal", "scale": {"domain": ["GroupB", "GFonly", "KOonly", "P"], "range": ["#D46DAA", "#E3B31C", "#00ADBA", "#231F20"]}, "legend": null}}},
                {"transform": [{"filter": "datum.k === 'R'"}], "mark": {"type": "bar"},
                 "encoding": {"x": {"field": "p", "type": "ordinal", "scale": {"type": "band", "range": [1101, 1345], "paddingInner": 0.1, "paddingOuter": 0}, "axis": null}, "y": {"field": "h", "type": "quantitative", "stack": "zero", "scale": {"domain": [0, 1], "range": [47, -3], "nice": false}, "axis": null}, "order": {"field": "h", "type": "quantitative", "sort": "ascending"}, "color": {"field": "l", "type": "nominal", "scale": {"domain": ["A", "C", "G", "T"], "range": ["#6DBE45", "#3A8FD0", "#F4C014", "#E34A62"]}, "legend": null}}}
              ]
            },
            {
              "width": 1350, "height": 176,
              "transform": [{"filter": "datum.r === 'ICSBP'"}],
              "resolve": {"scale": {"x": "independent", "color": "independent"}},
              "layer": [
                {"transform": [{"filter": "datum.k === 'n'"}], "mark": {"type": "text", "align": "left", "fontSize": 28.5, "font": "Liberation Sans"},
                 "encoding": {"x": {"field": "c", "type": "nominal", "scale": {"type": "point", "domain": ["name", "p"], "range": [25, 352], "padding": 0}, "axis": null}, "text": {"field": "t"}, "color": {"field": "g", "type": "nominal", "scale": {"domain": ["GroupB", "GFonly", "KOonly", "P"], "range": ["#D46DAA", "#E3B31C", "#00ADBA", "#231F20"]}, "legend": null}}},
                {"transform": [{"filter": "datum.k === 'L'"}], "mark": {"type": "bar"},
                 "encoding": {"x": {"field": "p", "type": "ordinal", "scale": {"type": "band", "range": [745, 988], "paddingInner": 0.1, "paddingOuter": 0}, "axis": null}, "y": {"field": "h", "type": "quantitative", "stack": "zero", "scale": {"domain": [0, 1], "range": [124, 74], "nice": false}, "axis": null}, "order": {"field": "h", "type": "quantitative", "sort": "ascending"}, "color": {"field": "l", "type": "nominal", "scale": {"domain": ["A", "C", "G", "T"], "range": ["#6DBE45", "#3A8FD0", "#F4C014", "#E34A62"]}, "legend": null}}}
              ]
            },
            {
              "width": 1350, "height": 34,
              "transform": [{"filter": "datum.r === 'SRF'"}],
              "resolve": {"scale": {"x": "independent", "color": "independent"}},
              "layer": [
                {"transform": [{"filter": "datum.k === 'n'"}], "mark": {"type": "text", "align": "left", "fontSize": 28.5, "font": "Liberation Sans"},
                 "encoding": {"x": {"field": "c", "type": "nominal", "scale": {"type": "point", "domain": ["name", "p"], "range": [25, 352], "padding": 0}, "axis": null}, "text": {"field": "t"}, "color": {"field": "g", "type": "nominal", "scale": {"domain": ["GroupB", "GFonly", "KOonly", "P"], "range": ["#D46DAA", "#E3B31C", "#00ADBA", "#231F20"]}, "legend": null}}},
                {"transform": [{"filter": "datum.k === 'R'"}], "mark": {"type": "bar"},
                 "encoding": {"x": {"field": "p", "type": "ordinal", "scale": {"type": "band", "range": [1101, 1345], "paddingInner": 0.1, "paddingOuter": 0}, "axis": null}, "y": {"field": "h", "type": "quantitative", "stack": "zero", "scale": {"domain": [0, 1], "range": [59, 9], "nice": false}, "axis": null}, "order": {"field": "h", "type": "quantitative", "sort": "ascending"}, "color": {"field": "l", "type": "nominal", "scale": {"domain": ["A", "C", "G", "T"], "range": ["#6DBE45", "#3A8FD0", "#F4C014", "#E34A62"]}, "legend": null}}}
              ]
            },
            {
              "width": 1350, "height": 142,
              "transform": [{"filter": "datum.r === 'BLIMP1'"}],
              "resolve": {"scale": {"x": "independent", "color": "independent"}},
              "layer": [
                {"transform": [{"filter": "datum.k === 'n'"}], "mark": {"type": "text", "align": "left", "fontSize": 28.5, "font": "Liberation Sans"},
                 "encoding": {"x": {"field": "c", "type": "nominal", "scale": {"type": "point", "domain": ["name", "p"], "range": [25, 352], "padding": 0}, "axis": null}, "text": {"field": "t"}, "color": {"field": "g", "type": "nominal", "scale": {"domain": ["GroupB", "GFonly", "KOonly", "P"], "range": ["#D46DAA", "#E3B31C", "#00ADBA", "#231F20"]}, "legend": null}}},
                {"transform": [{"filter": "datum.k === 'L'"}], "mark": {"type": "bar"},
                 "encoding": {"x": {"field": "p", "type": "ordinal", "scale": {"type": "band", "range": [745, 988], "paddingInner": 0.1, "paddingOuter": 0}, "axis": null}, "y": {"field": "h", "type": "quantitative", "stack": "zero", "scale": {"domain": [0, 1], "range": [100, 50], "nice": false}, "axis": null}, "order": {"field": "h", "type": "quantitative", "sort": "ascending"}, "color": {"field": "l", "type": "nominal", "scale": {"domain": ["A", "C", "G", "T"], "range": ["#6DBE45", "#3A8FD0", "#F4C014", "#E34A62"]}, "legend": null}}},
                {"transform": [{"filter": "datum.k === 'rb'"}], "mark": {"type": "rule", "strokeWidth": 2.5, "color": "#231F20"},
                 "encoding": {"y": {"datum": -0.48, "type": "quantitative", "scale": {"domain": [0, 1], "range": [100, 50], "nice": false}, "axis": null}}}
              ]
            }
          ]
        }
      ]
    },
    {
      "width": 2400, "height": 92,
      "data": {"values": [
        {"line": 1, "part": "lead", "t": "Supplementary Figure S4I Transcription factor (TF) motifs are differentially enriched in the promoter regions of Group B, GFonly and"},
        {"line": 2, "part": "lead", "t": "KOonly gene groups. (A)"},
        {"line": 2, "part": "body2", "t": "Pie chart displaying uniquely enriched TF motifs in each group (Group B: pink, GFonly: yellow, KOonly: teal)."},
        {"line": 3, "part": "lead", "t": "(B)"},
        {"line": 3, "part": "body3", "t": "Summary of individual TF motifs and the corresponding logo view from (A)."}
      ]},
      "resolve": {"scale": {"x": "independent"}},
      "encoding": {
        "y": {"field": "line", "type": "ordinal", "scale": {"type": "point", "padding": 0}, "axis": null},
        "text": {"field": "t"}
      },
      "layer": [
        {
          "transform": [{"filter": "datum.part === 'lead'"}],
          "mark": {"type": "text", "align": "left", "baseline": "alphabetic", "fontWeight": "bold", "fontSize": 31.5, "font": "DejaVu Sans", "color": "#231F20"},
          "encoding": {"x": {"field": "part", "type": "nominal", "scale": {"type": "point", "domain": ["lead", "body3"], "range": [0, 62], "padding": 0}, "axis": null}}
        },
        {
          "transform": [{"filter": "datum.part === 'body2'"}],
          "mark": {"type": "text", "align": "left", "baseline": "alphabetic", "fontSize": 33.4, "font": "DejaVu Sans", "color": "#231F20"},
          "encoding": {"x": {"field": "part", "type": "nominal", "scale": {"type": "point", "domain": ["lead", "body2"], "range": [0, 442], "padding": 0}, "axis": null}}
        },
        {
          "transform": [{"filter": "datum.part === 'body3'"}],
          "mark": {"type": "text", "align": "left", "baseline": "alphabetic", "fontSize": 33, "font": "DejaVu Sans", "color": "#231F20"},
          "encoding": {"x": {"field": "part", "type": "nominal", "scale": {"type": "point", "domain": ["lead", "body3"], "range": [0, 62], "padding": 0}, "axis": null}}
        }
      ]
    }
  ]
}
